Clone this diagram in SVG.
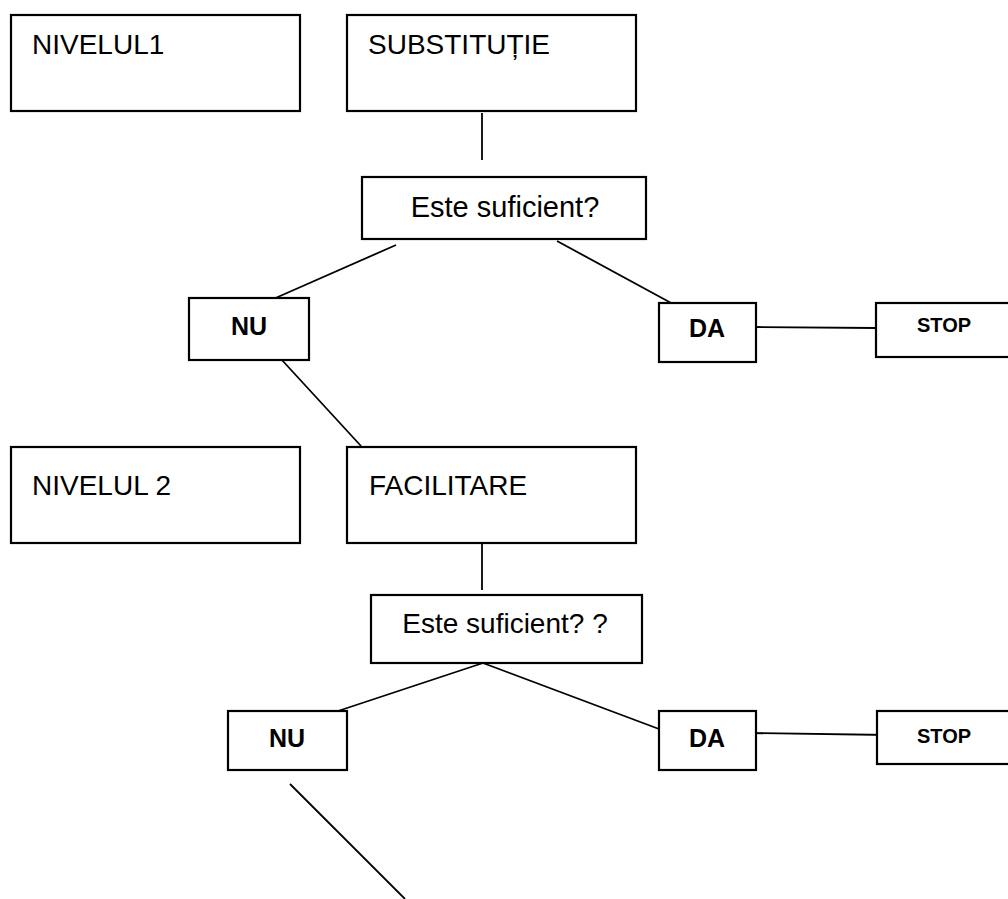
<svg xmlns="http://www.w3.org/2000/svg" width="1008" height="899" viewBox="0 0 1008 899">
<style>
.box{fill:#fff;stroke:#000;stroke-width:2.2}
.t{font-family:"Liberation Sans",Arial,sans-serif;font-size:28px;fill:#000}
.b{font-family:"Liberation Sans",Arial,sans-serif;font-weight:bold;font-size:25px;fill:#000}
.s{font-family:"Liberation Sans",Arial,sans-serif;font-weight:bold;font-size:20px;fill:#000}
.c{stroke:#000;stroke-width:1.8;fill:none}
</style>
<rect width="1008" height="899" fill="#fff"/>
<g id="connectors">
<line class="c" x1="482" y1="113" x2="482" y2="160"/>
<line class="c" x1="396" y1="245" x2="271" y2="300"/>
<line class="c" x1="557" y1="241" x2="673" y2="304"/>
<line class="c" x1="756" y1="327" x2="876" y2="328"/>
<line class="c" x1="281" y1="359" x2="361" y2="446"/>
<line class="c" x1="482" y1="543" x2="482" y2="590"/>
<line class="c" x1="483" y1="663" x2="338" y2="711"/>
<line class="c" x1="483" y1="663" x2="659" y2="729"/>
<line class="c" x1="746" y1="733" x2="889" y2="735"/>
<line class="c" x1="290" y1="784" x2="405" y2="899"/>
</g>
<g id="nivelul1"><rect class="box" x="11" y="15" width="289" height="96"/><text class="t" x="32" y="54">NIVELUL1</text></g>
<g id="substitutie"><rect class="box" x="347" y="15" width="289" height="96"/><text class="t" x="368" y="54">SUBSTITUȚIE</text></g>
<g id="suficient1"><rect class="box" x="362" y="177" width="284" height="62"/><text class="t" x="505" y="217" text-anchor="middle" style="font-size:29px">Este suficient?</text></g>
<g id="nu1"><rect class="box" x="189" y="298" width="120" height="62"/><text class="b" x="249" y="335" text-anchor="middle">NU</text></g>
<g id="da1"><rect class="box" x="659" y="303" width="97" height="59"/><text class="b" x="707" y="337" text-anchor="middle">DA</text></g>
<g id="stop1"><rect class="box" x="876" y="303" width="140" height="54"/><text class="s" x="917" y="332">STOP</text></g>
<g id="nivelul2"><rect class="box" x="11" y="447" width="289" height="96"/><text class="t" x="32" y="495">NIVELUL 2</text></g>
<g id="facilitare"><rect class="box" x="347" y="447" width="289" height="96"/><text class="t" x="369" y="495">FACILITARE</text></g>
<g id="suficient2"><rect class="box" x="371" y="595" width="271" height="68"/><text class="t" x="505" y="633" text-anchor="middle">Este suficient? ?</text></g>
<g id="nu2"><rect class="box" x="228" y="711" width="119" height="59"/><text class="b" x="287" y="747" text-anchor="middle">NU</text></g>
<g id="da2"><rect class="box" x="659" y="711" width="97" height="59"/><text class="b" x="707" y="747" text-anchor="middle">DA</text></g>
<g id="stop2"><rect class="box" x="877" y="711" width="140" height="53"/><text class="s" x="917" y="743">STOP</text></g>
</svg>
